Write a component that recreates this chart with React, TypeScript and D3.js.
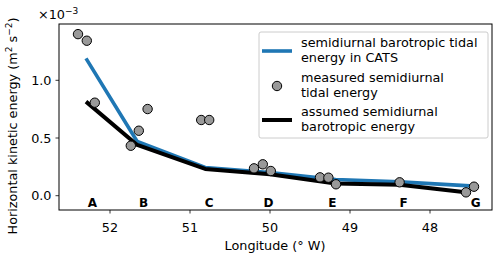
import React from "react";
import * as d3 from "d3";

const stationNames = ["A", "B", "C", "D", "E", "F", "G"];
const stationLon = [52.22, 51.58, 50.76, 50.02, 49.22, 48.33, 47.43];

const lineLon = [52.3, 51.66, 50.81, 50.0, 49.18, 48.38, 47.5];
const catsEnergy = [1.19, 0.47, 0.245, 0.2, 0.14, 0.12, 0.085];
const assumedEnergy = [0.815, 0.44, 0.232, 0.185, 0.105, 0.095, 0.026];

const measLon = [52.4, 52.29, 52.19, 51.53, 51.64, 51.74, 50.86, 50.76, 50.2, 50.09, 49.99, 49.375, 49.27, 49.175, 48.38, 47.55, 47.45];
const measEnergy = [1.4, 1.343, 0.806, 0.751, 0.563, 0.433, 0.656, 0.656, 0.237, 0.272, 0.214, 0.159, 0.156, 0.099, 0.116, 0.029, 0.078];

const xTicks = [52, 51, 50, 49, 48];
const yTicks = [0.0, 0.5, 1.0];

const FONT = "DejaVu Sans, sans-serif";
const FS = 12.8;

export default function App() {
  const left = 59, right = 492, top = 24, bottom = 210;
  const x = d3.scaleLinear().domain([52, 48]).range([110, 430]);
  const y = d3.scaleLinear().domain([0, 1]).range([195.7, 80.3]);
  const line = d3.line<[number, number]>().x(d => x(d[0])).y(d => y(d[1]));
  const cats = lineLon.map((l, i) => [l, catsEnergy[i]] as [number, number]);
  const assumed = lineLon.map((l, i) => [l, assumedEnergy[i]] as [number, number]);

  return (
    <svg width={500} height={258} style={{ position: "absolute", left: 0, top: 0, background: "white" }} fontFamily={FONT}>
      <defs>
        <clipPath id="plot"><rect x={left} y={top} width={right - left} height={bottom - top} /></clipPath>
      </defs>
      <g clipPath="url(#plot)">
        <path d={line(cats) || ""} fill="none" stroke="#1f77b4" strokeWidth={3.6} strokeLinejoin="round" />
        <path d={line(assumed) || ""} fill="none" stroke="black" strokeWidth={4} strokeLinejoin="round" />
        {measLon.map((l, i) => (
          <circle key={i} cx={x(l)} cy={y(measEnergy[i])} r={4.7} fill="#999999" stroke="black" strokeWidth={1} />
        ))}
      </g>
      {stationNames.map((n, i) => (
        <text key={n} x={x(stationLon[i])} y={207} textAnchor="middle" fontSize={12} fontWeight="bold">{n}</text>
      ))}
      <rect x={left} y={top} width={right - left} height={bottom - top} fill="none" stroke="black" strokeWidth={1} />
      {xTicks.map(t => (
        <g key={t}>
          <line x1={x(t)} x2={x(t)} y1={bottom} y2={bottom + 3.5} stroke="black" strokeWidth={0.8} />
          <text x={x(t)} y={231.5} textAnchor="middle" fontSize={FS}>{t}</text>
        </g>
      ))}
      {yTicks.map(t => (
        <g key={t}>
          <line x1={left} x2={left - 3.5} y1={y(t)} y2={y(t)} stroke="black" strokeWidth={0.8} />
          <text x={51.5} y={y(t) + 4.6} textAnchor="end" fontSize={FS}>{t.toFixed(1)}</text>
        </g>
      ))}
      <text x={38} y={19} fontSize={FS}>×10<tspan dy={-5} fontSize={9}>−3</tspan></text>
      <text x={275} y={250} textAnchor="middle" fontSize={FS}>Longitude (° W)</text>
      <text transform="translate(17,126) rotate(-90)" textAnchor="middle" fontSize={FS}>
        Horizontal kinetic energy (m<tspan dy={-5} fontSize={9}>2</tspan><tspan dy={5}> s</tspan><tspan dy={-5} fontSize={9}>−2</tspan><tspan dy={5}>)</tspan>
      </text>
      <g>
        <rect x={259} y={32} width={229} height={106} rx={2} fill="white" fillOpacity={0.8} stroke="#cccccc" strokeWidth={1} />
        <line x1={262} x2={292} y1={51} y2={51} stroke="#1f77b4" strokeWidth={3.6} />
        <text x={301} y={46.5} fontSize={FS}>semidiurnal barotropic tidal</text>
        <text x={301} y={61.5} fontSize={FS}>energy in CATS</text>
        <circle cx={277} cy={86} r={4.7} fill="#999999" stroke="black" strokeWidth={1} />
        <text x={301} y={81.5} fontSize={FS}>measured semidiurnal</text>
        <text x={301} y={96.5} fontSize={FS}>tidal energy</text>
        <line x1={262} x2={292} y1={120} y2={120} stroke="black" strokeWidth={4} />
        <text x={301} y={115.5} fontSize={FS}>assumed semidiurnal</text>
        <text x={301} y={130.5} fontSize={FS}>barotropic energy</text>
      </g>
    </svg>
  );
}
